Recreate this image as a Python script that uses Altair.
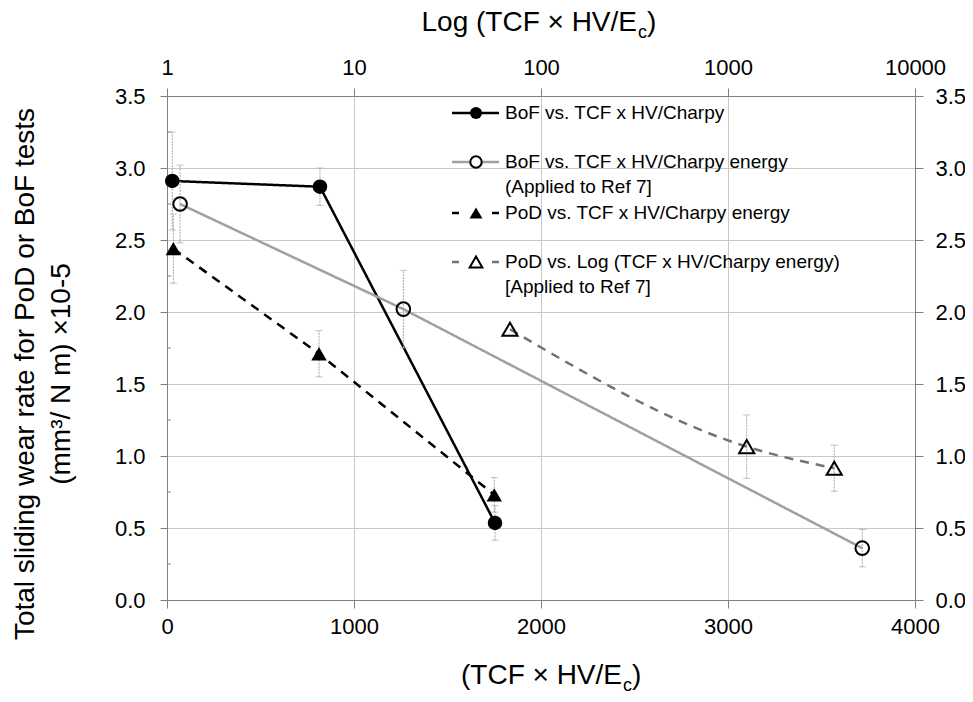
import altair as alt
import pandas as pd

# ---------------- data ----------------
s1_x = [28, 818, 1754]
s1_y = [2.91, 2.87, 0.535]
s1_e = [0.34, 0.13, 0.12]

s2_x = [70, 1264, 3718]
s2_y = [2.75, 2.02, 0.36]
s2_e = [0.27, 0.27, 0.13]

s3_x = [34, 813, 1750]
s3_y = [2.44, 1.71, 0.73]
s3_e = [0.24, 0.16, 0.12]

s4_x = [1834, 3100, 3568]
s4_y = [1.88, 1.065, 0.915]
s4_e = [0.0, 0.22, 0.16]

series_labels = [
    "BoF vs. TCF x HV/Charpy",
    "BoF vs. TCF x HV/Charpy energy\n(Applied to Ref 7]",
    "PoD vs. TCF x HV/Charpy energy",
    "PoD vs. Log (TCF x HV/Charpy energy)\n[Applied to Ref 7]",
]
x_ticks = [0, 1000, 2000, 3000, 4000]
top_ticks = [1, 10, 100, 1000, 10000]
y_ticks = [0, 0.5, 1.0, 1.5, 2.0, 2.5, 3.0, 3.5]
y_minor = [0.25, 0.75, 1.25, 1.75, 2.25, 2.75, 3.25]
y_title_lines = ["Total sliding wear rate for PoD or BoF tests", "(mm\u00b3/ N m) \u00d710-5"]

FONT = "Liberation Sans"
W, H = 748, 504
AXC = "#808080"
GRIDC = "#c8c8c8"

xs = alt.Scale(domain=[0, 4000], nice=False, zero=False)
ys = alt.Scale(domain=[0, 3.5], nice=False, zero=False)

x_axis = alt.Axis(values=x_ticks, format="d", title=None, grid=True, gridColor=GRIDC,
                  domainColor=AXC, tickColor=AXC, tickSize=8, labelFontSize=22,
                  labelFont=FONT, labelColor="black", labelPadding=8, labelFlush=False)
y_axis = alt.Axis(values=y_ticks, format=".1f", title=None, grid=True, gridColor=GRIDC,
                  domainColor=AXC, tickColor=AXC, tickSize=7, labelFontSize=22,
                  labelFont=FONT, labelColor="black", labelPadding=15)


def frame(x, y, e):
    return pd.DataFrame({"x": x, "y": y,
                         "lo": [a - b for a, b in zip(y, e)],
                         "hi": [a + b for a, b in zip(y, e)]})


X = alt.X("x:Q", scale=xs, axis=x_axis)
Y = alt.Y("y:Q", scale=ys, axis=y_axis)

styles = [
    dict(color="black", dash=[1, 0], shape="circle", filled=True, size=210, interp="linear"),
    dict(color="#a0a0a0", dash=[1, 0], shape="circle", filled=False, size=185, interp="linear"),
    dict(color="black", dash=[9, 7], shape="triangle-up", filled=True, size=240, interp="linear"),
    dict(color="#737373", dash=[9, 7], shape="triangle-up", filled=False, size=230, interp="monotone"),
]
series = [(s1_x, s1_y, s1_e), (s2_x, s2_y, s2_e), (s3_x, s3_y, s3_e), (s4_x, s4_y, s4_e)]

layers = []
# minor ticks on the left axis (inside)
layers.append(alt.Chart(pd.DataFrame({"m": y_minor})).mark_rule(color=AXC, strokeWidth=1)
              .encode(x=alt.value(0), x2=alt.value(4), y=alt.Y("m:Q", scale=ys, axis=y_axis)))
# lines
for (sx, sy, se), st in zip(series, styles):
    d = frame(sx, sy, se)
    layers.append(alt.Chart(d).mark_line(color=st["color"], strokeWidth=2.5,
                                         strokeDash=st["dash"], interpolate=st["interp"])
                  .encode(x=X, y=Y))
# error bars
for (sx, sy, se), st in zip(series, styles):
    d = frame(sx, sy, se)
    d = d[d["hi"] > d["lo"]]
    layers.append(alt.Chart(d).mark_rule(color="#a8a8a8", strokeWidth=1, strokeDash=[2, 1])
                  .encode(x=X, y=alt.Y("lo:Q", scale=ys, axis=y_axis), y2="hi:Q"))
    for f in ["lo", "hi"]:
        layers.append(alt.Chart(d).mark_tick(orient="horizontal", color="#a8a8a8", size=7,
                                             thickness=1)
                      .encode(x=X, y=alt.Y(f + ":Q", scale=ys, axis=y_axis)))
# markers
for (sx, sy, se), st in zip(series, styles):
    d = frame(sx, sy, se)
    if st["filled"]:
        m = alt.Chart(d).mark_point(shape=st["shape"], filled=True, color="black",
                                    size=st["size"], opacity=1)
    else:
        m = alt.Chart(d).mark_point(shape=st["shape"], filled=False, color="black",
                                    strokeWidth=2, size=st["size"], opacity=1)
    layers.append(m.encode(x=X, y=Y))

# legend (drawn inside the plot)
one = pd.DataFrame({"k": [0]})
leg_rows = [17, 66, 117, 166]
for lab, st, ly in zip(series_labels, styles, leg_rows):
    dash = [1, 0] if st["dash"] == [1, 0] else [7, 33]
    layers.append(alt.Chart(one).mark_rule(color=st["color"], strokeWidth=2.5, strokeDash=dash)
                  .encode(x=alt.value(285), x2=alt.value(332), y=alt.value(ly)))
    if st["filled"]:
        pm = alt.Chart(one).mark_point(shape=st["shape"], filled=True, color="black",
                                       size=st["size"] * 0.7, opacity=1)
    else:
        pm = alt.Chart(one).mark_point(shape=st["shape"], filled=True, fill="white",
                                       stroke="black", strokeWidth=2,
                                       size=st["size"] * 0.7, opacity=1)
    layers.append(pm.encode(x=alt.value(309), y=alt.value(ly)))
    layers.append(alt.Chart(one).mark_text(align="left", baseline="middle", font=FONT,
                                           fontSize=19, lineBreak="\n", lineHeight=25,
                                           color="black")
                  .encode(x=alt.value(338), y=alt.value(ly), text=alt.value(lab)))


# axis titles (with subscript c)
def title_parts(x_end, base_y, main):
    out = []
    out.append(alt.Chart(one).mark_text(align="right", baseline="alphabetic", font=FONT,
                                        fontSize=28, color="black")
               .encode(x=alt.value(x_end), y=alt.value(base_y), text=alt.value(main)))
    out.append(alt.Chart(one).mark_text(align="left", baseline="alphabetic", font=FONT,
                                        fontSize=18, color="black")
               .encode(x=alt.value(x_end + 1), y=alt.value(base_y + 7), text=alt.value("c")))
    out.append(alt.Chart(one).mark_text(align="left", baseline="alphabetic", font=FONT,
                                        fontSize=28, color="black")
               .encode(x=alt.value(x_end + 10), y=alt.value(base_y), text=alt.value(")")))
    return out


layers += title_parts(470, -65, "Log (TCF \u00d7 HV/E")
layers += title_parts(455, 588, "(TCF \u00d7 HV/E")

for xv, t in zip([-141, -105], y_title_lines):
    layers.append(alt.Chart(one).mark_text(align="center", baseline="middle", font=FONT,
                                           fontSize=28, angle=270, color="black")
                  .encode(x=alt.value(xv), y=alt.value(278), text=alt.value(t)))

main = alt.layer(*layers)

# secondary axes: log top axis and right y axis
dummy = alt.Chart(pd.DataFrame({"lx": [1, 10000], "ry": [0, 3.5]})).mark_point(opacity=0).encode(
    x=alt.X("lx:Q", scale=alt.Scale(type="log", domain=[1, 10000], nice=False),
            axis=alt.Axis(orient="top", values=top_ticks, format="d", title=None, grid=False,
                          domainColor=AXC, tickColor=AXC, tickSize=8, labelFontSize=22,
                          labelFont=FONT, labelColor="black", labelPadding=9,
                          labelFlush=False)),
    y=alt.Y("ry:Q", scale=ys,
            axis=alt.Axis(orient="right", values=y_ticks, format=".1f", title=None, grid=False,
                          domainColor=AXC, tickColor=AXC, tickSize=8, labelFontSize=22,
                          labelFont=FONT, labelColor="black", labelPadding=12)),
)

chart = (alt.layer(main, dummy)
         .resolve_scale(x="independent", y="independent")
         .properties(width=W, height=H, autosize=alt.AutoSizeParams(type="none"),
                     padding={"left": 159, "top": 88, "right": 50, "bottom": 94},
                     background="white")
         .configure_view(stroke=None))

chart.save("out.html", embed_options={"renderer": "svg", "actions": False})
